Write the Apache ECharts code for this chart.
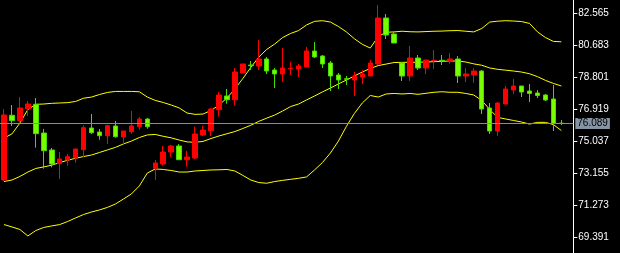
<!DOCTYPE html>
<html>
<head>
<meta charset="utf-8">
<script src="https://cdn.jsdelivr.net/npm/echarts@6/dist/echarts.min.js"></script>
<style>
html,body{margin:0;padding:0;background:#000;}
#c{width:620px;height:253px;}
</style>
</head>
<body>
<div id="c"></div>
<script>
// Candle index labels (72 slots; the last is the empty right margin)
const categories = Array.from({length: 72}, (_, i) => String(i + 1));

const open = [72.761,76.566,76.248,76.954,77.213,75.525,74.525,73.719,73.937,74.055,
74.543,75.819,75.584,75.366,75.937,75.290,75.601,75.895,76.348,73.449,
73.702,74.407,74.760,73.955,74.055,75.407,75.660,76.895,77.701,77.483,
79.054,79.524,79.465,79.877,79.230,78.995,79.310,79.289,79.407,80.348,
80.053,79.642,78.936,78.720,78.642,78.818,78.877,79.583,82.288,81.347,
79.642,78.877,79.936,79.348,79.780,79.801,79.759,79.877,78.877,78.936,
79.171,76.995,75.642,77.230,78.054,78.289,77.995,77.877,77.760,77.525,76.100];

const close = [76.584,76.248,76.995,77.230,75.484,74.484,73.702,73.996,74.131,74.584,
75.837,75.542,75.366,75.954,75.307,75.642,75.937,76.348,75.895,73.760,
74.407,74.760,73.955,74.113,75.466,75.701,76.936,77.760,77.483,79.112,
79.583,79.483,79.877,79.171,78.995,79.348,79.330,79.465,80.348,79.995,
79.583,78.877,78.642,78.680,78.877,78.995,79.642,82.288,81.289,80.818,
78.877,79.936,79.348,79.818,79.801,79.780,79.877,78.877,78.995,79.171,
76.936,75.642,77.289,78.113,78.289,77.936,77.850,77.730,77.466,76.090,76.089];

const low = [72.702,75.937,76.189,76.525,74.660,73.425,73.507,72.820,73.602,73.778,
74.096,75.466,75.131,74.878,75.248,74.819,75.484,75.719,75.778,72.761,
73.602,74.113,73.955,73.543,73.996,75.348,75.348,76.484,77.248,77.131,
79.054,79.230,79.230,78.995,78.171,78.524,78.936,78.818,79.407,79.936,
79.348,77.995,78.113,78.348,77.701,78.407,78.877,79.524,81.053,80.818,
78.583,78.583,79.230,78.995,79.289,79.524,79.583,78.466,78.524,78.466,
76.642,75.466,75.348,77.230,77.819,77.642,77.348,77.583,77.407,75.642,75.995];

const high = [76.936,77.172,77.642,77.407,77.583,75.760,74.643,74.407,74.290,74.600,
75.978,76.642,75.760,76.013,76.231,75.642,76.819,76.466,76.407,73.937,
74.760,74.819,74.878,74.466,75.895,75.954,76.978,77.936,78.113,79.348,
79.583,79.759,80.994,79.995,79.348,80.524,79.701,79.583,80.583,80.877,
80.112,79.759,79.054,78.877,79.112,79.230,79.818,83.053,82.524,81.465,
79.701,80.642,80.112,79.818,80.406,80.112,80.230,80.053,79.348,79.348,
79.230,77.289,77.348,78.289,78.701,78.289,78.407,78.054,77.819,78.348,76.289];

const upperBand = [75.23,75.47,76.11,76.91,77.21,77.23,77.27,77.29,77.31,77.38,
77.57,77.64,77.79,77.91,77.97,77.97,77.97,77.95,77.64,77.44,
77.32,77.17,77.00,76.70,76.62,76.64,76.85,77.17,77.58,78.11,
78.73,79.38,79.99,80.44,80.76,81.14,81.38,81.55,81.88,82.09,
82.13,82.05,81.79,81.47,81.07,80.74,80.52,81.20,81.45,81.47,
81.51,81.48,81.47,81.49,81.51,81.52,81.54,81.55,81.51,81.47,
81.67,82.05,82.10,82.13,82.11,82.08,81.97,81.47,81.14,80.91,80.89];

const middleBand = [72.67,72.76,72.97,73.23,73.44,73.53,73.63,73.79,73.92,74.04,
74.14,74.23,74.38,74.53,74.68,74.88,75.05,75.26,75.41,75.44,
75.33,75.24,75.11,75.00,74.98,75.03,75.20,75.35,75.48,75.61,
75.79,75.98,76.21,76.40,76.58,76.82,77.08,77.23,77.47,77.70,
77.94,78.17,78.41,78.64,78.88,79.11,79.32,79.49,79.58,79.67,
79.68,79.68,79.69,79.70,79.72,79.74,79.76,79.76,79.70,79.59,
79.51,79.35,79.27,79.22,79.17,79.11,79.01,78.84,78.62,78.44,78.29];

const lowerBand = [70.14,70.00,69.85,69.47,69.79,69.97,70.06,70.14,70.32,70.53,
70.73,70.88,71.00,71.15,71.35,71.64,71.94,72.41,73.17,73.41,
73.38,73.32,73.23,73.23,73.29,73.32,73.35,73.36,73.38,73.29,
73.03,72.76,72.61,72.57,72.67,72.74,72.80,72.86,72.94,73.35,
73.79,74.35,75.05,75.91,76.67,77.29,77.73,77.64,77.82,77.85,
77.82,77.85,77.80,77.86,77.92,77.95,77.92,77.92,77.85,77.76,
77.44,76.91,76.44,76.35,76.26,76.17,76.05,76.15,76.15,76.02,75.67];

const tickLabels = [82.565, 80.683, 78.801, 76.919, 75.037, 73.155, 71.273, 69.391];
const axisMin = 68.467, axisMax = 83.347;
const lastPrice = 76.089;

const candleData = open.map((o, i) => [o, close[i], low[i], high[i]]);

const chart = echarts.init(document.getElementById('c'), null, {renderer: 'canvas'});
const bandStyle = {color: '#ffff00', width: 1};
chart.setOption({
  backgroundColor: '#000000',
  animation: false,
  grid: {left: -2.7, right: 46.7, top: 0, bottom: 0, containLabel: false},
  xAxis: {
    type: 'category', data: categories, boundaryGap: true, show: false
  },
  yAxis: {
    type: 'value', position: 'right', min: axisMin, max: axisMax, scale: true,
    splitLine: {show: false},
    axisLine: {show: true, lineStyle: {color: '#ffffff', width: 1}},
    axisTick: {show: true, length: 4, lineStyle: {color: '#ffffff'}, customValues: tickLabels},
    axisLabel: {
      show: true, color: '#ffffff', fontFamily: 'Liberation Sans', fontSize: 10, margin: 5,
      customValues: tickLabels,
      formatter: v => v.toFixed(3)
    }
  },
  series: [
    {type: 'line', data: upperBand, symbol: 'none', lineStyle: bandStyle, z: 1},
    {type: 'line', data: middleBand, symbol: 'none', lineStyle: bandStyle, z: 1},
    {type: 'line', data: lowerBand, symbol: 'none', lineStyle: bandStyle, z: 1},
    {
      type: 'candlestick', data: candleData, barWidth: 5, z: 3,
      itemStyle: {
        color: '#ff0000', color0: '#77ff00',
        borderColor: '#ff0000', borderColor0: '#44dd00', borderWidth: 1
      },
      markLine: {
        silent: true, symbol: 'none', animation: false,
        lineStyle: {color: '#8c8c8c', width: 1, type: 'solid'},
        label: {
          show: true, position: 'end', distance: 2,
          formatter: lastPrice.toFixed(3),
          backgroundColor: '#8593a3', color: '#000000',
          fontFamily: 'Liberation Sans', fontSize: 10, padding: [1, 2, 0, 2], lineHeight: 10
        },
        data: [{yAxis: lastPrice}]
      }
    }
  ]
});
</script>
</body>
</html>
